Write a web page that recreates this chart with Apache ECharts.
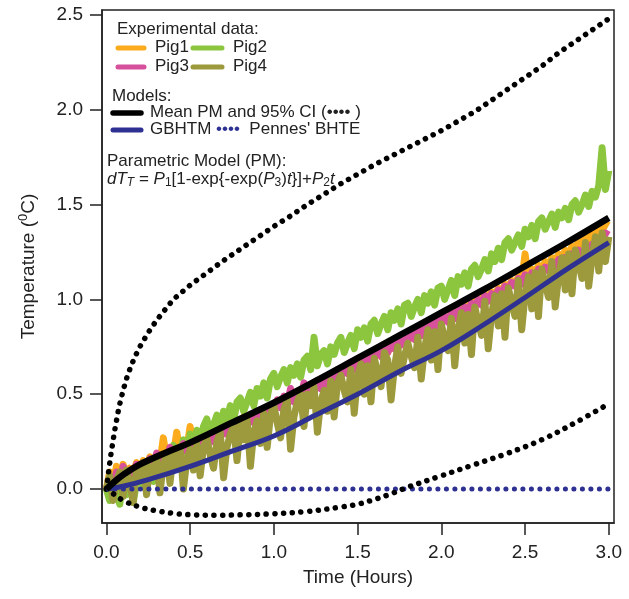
<!DOCTYPE html>
<html>
<head>
<meta charset="utf-8">
<script src="https://cdn.jsdelivr.net/npm/echarts@6/dist/echarts.min.js"></script>
<style>
html,body{margin:0;padding:0;background:#fff;}
#chart{width:629px;height:599px;}
</style>
</head>
<body>
<div id="chart"></div>
<script>
// ---- Data ----
const xTicks = [0, 0.5, 1.0, 1.5, 2.0, 2.5, 3.0];
const yTicks = [0, 0.5, 1.0, 1.5, 2.0, 2.5];

// pig traces sampled every 0.02 h from t = 0 to 3.0
const pigStep = 0.02;
const pig1 = [
0.00,0.09,0.02,0.12,0.04,0.13,0.06,0.11,0.08,0.14,
0.10,0.15,0.11,0.17,0.13,0.16,0.14,0.27,0.16,0.21,
0.18,0.30,0.20,0.24,0.21,0.33,0.22,0.26,0.23,0.28,
0.25,0.29,0.26,0.32,0.28,0.33,0.29,0.35,0.31,0.36,
0.33,0.38,0.34,0.39,0.36,0.41,0.38,0.42,0.40,0.44,
0.42,0.46,0.43,0.48,0.45,0.49,0.47,0.51,0.49,0.53,
0.51,0.55,0.52,0.57,0.54,0.58,0.56,0.60,0.58,0.62,
0.60,0.64,0.61,0.66,0.63,0.67,0.65,0.69,0.67,0.71,
0.69,0.73,0.70,0.75,0.72,0.76,0.74,0.78,0.76,0.80,
0.78,0.82,0.79,0.84,0.81,0.85,0.83,0.87,0.85,0.89,
0.87,0.91,0.89,0.93,0.90,0.95,0.92,0.97,0.94,0.99,
0.96,1.01,0.98,1.03,1.00,1.04,1.02,1.06,1.04,1.08,
1.06,1.10,1.08,1.12,1.10,1.24,1.12,1.16,1.14,1.18,
1.16,1.20,1.18,1.22,1.20,1.24,1.22,1.26,1.24,1.28,
1.27,1.31,1.29,1.33,1.31,1.35,1.33,1.38,1.36,1.40,
1.39];
const pig2 = [
0.00,-0.06,0.05,-0.02,-0.08,0.07,-0.03,0.08,-0.07,0.03,
0.10,0.02,0.07,0.12,0.04,0.15,0.10,0.17,0.09,0.19,
0.23,0.16,0.20,0.26,0.18,0.29,0.24,0.31,0.24,0.33,
0.37,0.29,0.34,0.39,0.32,0.41,0.36,0.44,0.36,0.46,
0.48,0.41,0.46,0.51,0.44,0.53,0.49,0.56,0.48,0.58,
0.61,0.54,0.59,0.63,0.56,0.64,0.60,0.66,0.59,0.68,
0.70,0.63,0.80,0.65,0.71,0.73,0.66,0.75,0.71,0.77,
0.80,0.72,0.77,0.81,0.74,0.84,0.80,0.85,0.78,0.87,
0.89,0.82,0.87,0.91,0.84,0.93,0.89,0.95,0.87,0.97,
0.98,0.91,0.96,1.00,0.93,1.02,0.98,1.04,0.97,1.06,
1.07,1.00,1.05,1.10,1.02,1.12,1.08,1.14,1.07,1.16,
1.18,1.12,1.16,1.21,1.15,1.24,1.20,1.27,1.21,1.30,
1.32,1.26,1.30,1.34,1.28,1.37,1.33,1.39,1.32,1.41,
1.43,1.37,1.41,1.45,1.38,1.46,1.43,1.48,1.42,1.50,
1.52,1.46,1.50,1.55,1.49,1.57,1.54,1.60,1.80,1.58,
1.68];
const pig3 = [
0.00,0.06,0.02,0.09,0.04,0.12,0.06,0.10,0.08,0.13,
0.09,0.14,0.11,0.16,0.12,0.19,0.14,0.18,0.16,0.22,
0.17,0.21,0.18,0.24,0.20,0.23,0.21,0.26,0.22,0.25,
0.24,0.28,0.25,0.30,0.27,0.31,0.29,0.33,0.30,0.35,
0.32,0.36,0.33,0.39,0.35,0.40,0.37,0.42,0.39,0.43,
0.41,0.47,0.43,0.49,0.45,0.53,0.46,0.51,0.48,0.56,
0.50,0.54,0.51,0.57,0.53,0.58,0.55,0.60,0.57,0.63,
0.59,0.64,0.61,0.67,0.63,0.68,0.65,0.70,0.67,0.72,
0.69,0.74,0.70,0.76,0.72,0.77,0.74,0.79,0.76,0.81,
0.78,0.82,0.79,0.84,0.81,0.86,0.83,0.88,0.85,0.90,
0.87,0.91,0.88,0.93,0.90,0.95,0.92,0.96,0.94,0.98,
0.96,1.00,0.97,1.02,0.99,1.03,1.01,1.05,1.03,1.07,
1.05,1.09,1.07,1.11,1.08,1.13,1.10,1.14,1.12,1.16,
1.13,1.17,1.15,1.19,1.16,1.21,1.18,1.22,1.20,1.24,
1.21,1.26,1.23,1.24,1.25,1.29,1.27,1.31,1.30,1.35,
1.34];
const pig4 = [
0.00,0.07,-0.06,0.04,0.09,-0.04,0.10,0.03,-0.07,0.11,
0.05,0.14,-0.03,0.12,0.08,0.16,-0.02,0.13,0.18,0.03,
0.19,0.12,0.22,0.00,0.15,0.21,0.10,0.24,0.07,0.22,
0.27,0.18,0.11,0.25,0.30,0.06,0.22,0.29,0.33,0.15,
0.34,0.26,0.37,0.12,0.30,0.36,0.24,0.40,0.22,0.39,
0.44,0.35,0.27,0.42,0.47,0.21,0.38,0.46,0.50,0.33,
0.50,0.44,0.54,0.30,0.46,0.52,0.41,0.57,0.38,0.56,
0.60,0.52,0.46,0.63,0.40,0.59,0.66,0.50,0.65,0.46,
0.69,0.61,0.54,0.72,0.68,0.47,0.64,0.75,0.61,0.70,
0.77,0.70,0.64,0.80,0.58,0.74,0.84,0.68,0.83,0.63,
0.87,0.79,0.73,0.90,0.65,0.84,0.93,0.77,0.92,0.71,
0.96,0.88,0.81,0.99,0.74,0.92,1.02,0.86,1.03,0.80,
1.06,0.98,0.91,1.10,0.84,1.02,1.12,0.95,1.14,0.91,
1.16,1.08,1.01,1.20,0.96,1.12,1.22,1.05,1.24,1.03,
1.26,1.19,1.11,1.30,1.07,1.22,1.33,1.15,1.35,1.20,
1.33];

// Mean parametric model
const pmT = [0, 0.05, 0.1, 0.2, 0.35, 0.5, 0.75, 1.0, 1.25, 1.5, 1.75, 2.0, 2.25, 2.5, 2.75, 3.0];
const pmV = [0, 0.04, 0.075, 0.13, 0.19, 0.245, 0.35, 0.455, 0.57, 0.69, 0.81, 0.93, 1.05, 1.175, 1.30, 1.43];
// 95% CI upper / lower
const ciUpT = [0, 0.025, 0.05, 0.075, 0.1, 0.125, 0.15, 0.175, 0.2, 0.25, 0.3, 0.4, 0.5, 0.6, 0.7, 0.8, 0.9, 1.0,
  1.1, 1.2, 1.3, 1.4, 1.5, 1.6, 1.7, 1.8, 1.9, 2.0, 2.1, 2.2, 2.3, 2.4, 2.5, 2.6, 2.7, 2.8, 2.9, 3.0];
const ciUpV = [0, 0.17, 0.31, 0.43, 0.52, 0.595, 0.655, 0.705, 0.75, 0.825, 0.89, 1.0, 1.075, 1.14, 1.205, 1.265, 1.325, 1.385,
  1.44, 1.50, 1.555, 1.61, 1.66, 1.71, 1.755, 1.80, 1.845, 1.89, 1.94, 1.99, 2.05, 2.11, 2.17, 2.23, 2.30, 2.36, 2.42, 2.48];
const ciLoT = [0, 0.05, 0.1, 0.2, 0.3, 0.4, 0.5, 0.65, 0.8, 1.0, 1.2, 1.4, 1.5, 1.6, 1.7, 1.8, 2.0, 2.2, 2.4, 2.6, 2.8, 3.0];
const ciLoV = [0, -0.03, -0.06, -0.095, -0.115, -0.128, -0.135, -0.138, -0.136, -0.13, -0.118, -0.095, -0.08, -0.055, -0.025, 0.01, 0.07, 0.13, 0.19, 0.26, 0.35, 0.45];
// GBHTM model
const gbT = [0, 0.1, 0.25, 0.5, 0.75, 1.0, 1.25, 1.5, 1.75, 2.0, 2.25, 2.5, 2.75, 3.0];
const gbV = [0, 0.015, 0.05, 0.12, 0.2, 0.28, 0.39, 0.5, 0.62, 0.73, 0.865, 1.01, 1.16, 1.30];
// Pennes' BHTE
const pennesT = [0, 1.0, 2.0, 3.0];
const pennesV = [0, 0, 0, 0];

// ---- Build ----
const pair = (ts, vs) => vs.map((v, i) => [ts[i], v]);
const pigPairs = arr => arr.map((v, i) => [+(i * pigStep).toFixed(2), v]);

const C = {
  pig1: '#fbab1c', pig2: '#8cc63f', pig3: '#d6509b', pig4: '#9c9a3c',
  black: '#000000', blue: '#2e3192'
};
const FONT = 'Liberation Sans, Arial, sans-serif';
const FS = 17;

const chart = echarts.init(document.getElementById('chart'), null, {renderer: 'canvas'});

function pigSeries(name, data, color) {
  return {
    name, type: 'line', data: pigPairs(data), showSymbol: false, symbol: 'none',
    lineStyle: {color, width: 7, join: 'round'}, z: 2, animation: false
  };
}

const txt = (x, y, text) => ({type: 'text', left: x, top: y, style: {text, font: FS + 'px ' + FONT, fill: '#222'}});
const swatch = (x1, x2, y, color, w) => ({type: 'line', shape: {x1, y1: y, x2, y2: y}, style: {stroke: color, lineWidth: w || 5, lineCap: 'round'}});

const option = {
  animation: false,
  backgroundColor: '#fff',
  grid: {left: 102, right: 15, top: 10, bottom: 76, show: true, borderColor: '#222', borderWidth: 1.5, backgroundColor: 'transparent'},
  xAxis: {
    type: 'value', min: -0.026, max: 3.031,
    name: 'Time (Hours)', nameLocation: 'middle', nameGap: 45,
    nameTextStyle: {fontFamily: FONT, fontSize: 19, color: '#222'},
    axisLine: {show: true, onZero: false, lineStyle: {color: '#222', width: 1.5}},
    axisTick: {show: true, inside: false, length: 12, lineStyle: {color: '#222', width: 1.5}, customValues: xTicks},
    axisLabel: {customValues: xTicks, margin: 20, fontFamily: FONT, fontSize: 19, color: '#222',
      formatter: v => v.toFixed(1)},
    splitLine: {show: false}
  },
  yAxis: {
    type: 'value', min: -0.179, max: 2.526,
    name: '{n|Temperature (}{s|0}{n|C)}', nameLocation: 'middle', nameGap: 62, nameRotate: 90,
    nameTextStyle: {fontFamily: FONT, fontSize: 19, color: '#222',
      rich: {n: {fontFamily: FONT, fontSize: 19, color: '#222'}, s: {fontFamily: FONT, fontSize: 13, color: '#222', verticalAlign: 'top', padding: [0, 0, 10, 0]}}},
    axisLine: {show: true, onZero: false, lineStyle: {color: '#222', width: 1.5}},
    axisTick: {show: true, inside: false, length: 12, lineStyle: {color: '#222', width: 1.5}, customValues: yTicks},
    axisLabel: {customValues: yTicks, margin: 19, fontFamily: FONT, fontSize: 19, color: '#222',
      formatter: v => v.toFixed(1)},
    splitLine: {show: false}
  },
  series: [
    pigSeries('Pig1', pig1, C.pig1),
    pigSeries('Pig2', pig2, C.pig2),
    pigSeries('Pig3', pig3, C.pig3),
    pigSeries('Pig4', pig4, C.pig4),
    {name: 'Pennes', type: 'line', data: pair(pennesT, pennesV), symbol: 'none', z: 3,
      lineStyle: {color: C.blue, width: 5, type: [0.1, 8.4], cap: 'round'}},
    {name: 'CI upper', type: 'line', data: pair(ciUpT, ciUpV), smooth: false, symbol: 'none', z: 4,
      lineStyle: {color: C.black, width: 5.5, type: [0.1, 8.6], cap: 'round', join: 'round'}},
    {name: 'CI lower', type: 'line', data: pair(ciLoT, ciLoV), smooth: 0.4, symbol: 'none', z: 4,
      lineStyle: {color: C.black, width: 5.5, type: [0.1, 8.6], cap: 'round'}},
    {name: 'GBHTM', type: 'line', data: pair(gbT, gbV), smooth: 0.4, symbol: 'none', z: 5,
      lineStyle: {color: C.blue, width: 5}},
    {name: 'Mean PM', type: 'line', data: pair(pmT, pmV), smooth: 0.4, symbol: 'none', z: 6,
      lineStyle: {color: C.black, width: 6.5}}
  ],
  graphic: [
    txt(117, 21, 'Experimental data:'),
    swatch(118, 144, 48, C.pig1), txt(155, 39, 'Pig1'),
    swatch(193, 222, 48, C.pig2), txt(233, 39, 'Pig2'),
    swatch(118, 144, 67, C.pig3), txt(155, 58, 'Pig3'),
    swatch(193, 222, 67, C.pig4), txt(233, 58, 'Pig4'),

    txt(112, 88, 'Models:'),
    swatch(113, 141, 113, C.black, 5.5), txt(150, 104, 'Mean PM and 95% CI (•••• )'),
    swatch(113, 141, 130, C.blue), 
    {type: 'text', left: 150, top: 121, style: {
      text: 'GBHTM {b|••••}  Pennes\' BHTE', font: FS + 'px ' + FONT, fill: '#222',
      rich: {b: {fontFamily: FONT, fontSize: FS, fill: C.blue, color: C.blue}}
    }},

    txt(107, 153, 'Parametric Model (PM):'),
    {type: 'text', left: 107, top: 171, style: {
      text: '{i|dT}{is|T}{n| = }{i|P}{s|1}{n|[1-exp{-exp(}{i|P}{s|3}{n|)}{i|t}}]+{i|P}{s|2}{i|t}',
      font: FS + 'px ' + FONT, fill: '#222',
      rich: {
        n: {fontFamily: FONT, fontSize: FS, color: '#222'},
        i: {fontFamily: FONT, fontSize: FS, fontStyle: 'italic', color: '#222'},
        s: {fontFamily: FONT, fontSize: 12, color: '#222', verticalAlign: 'bottom', padding: [7, 0, 0, 0]},
        is: {fontFamily: FONT, fontSize: 12, fontStyle: 'italic', color: '#222', verticalAlign: 'bottom', padding: [7, 0, 0, 0]}
      }
    }}
  ]
};
chart.setOption(option);
</script>
</body>
</html>
